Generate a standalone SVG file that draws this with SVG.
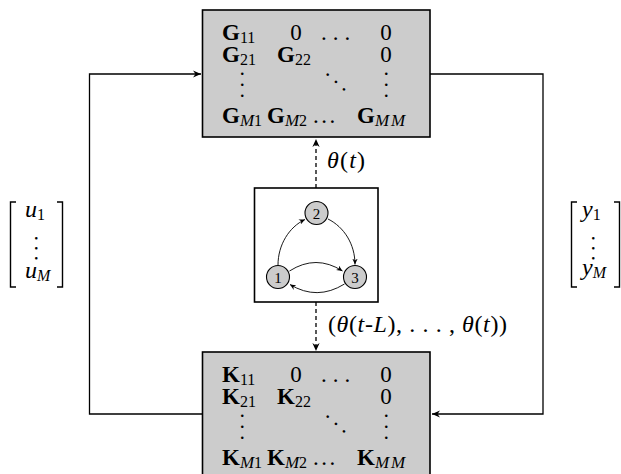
<svg xmlns="http://www.w3.org/2000/svg" width="621" height="474" viewBox="0 0 621 474">
  <defs>
    <style>
      .box { fill: #cccccc; stroke: #000; stroke-width: 1.6; }
      .frame { fill: #fff; stroke: #000; stroke-width: 1.6; }
      .node { fill: #cccccc; stroke: #000; stroke-width: 1.1; }
      .wire { fill: none; stroke: #000; stroke-width: 1.3; }
      .dash { fill: none; stroke: #000; stroke-width: 1.3; stroke-dasharray: 4 3; }
      .edge { fill: none; stroke: #000; stroke-width: 0.9; }
      .brk { fill: none; stroke: #000; stroke-width: 1.4; }
      text { font-family: "Liberation Serif", "DejaVu Serif", serif; fill: #000; }
      .mx { font-size: 23px; }
      .b { font-weight: bold; }
      .s { font-size: 16px; }
      .si { font-size: 17px; font-style: italic; }
      .i { font-style: italic; }
      .lbl { font-size: 24px; }
      .vd { font-size: 22px; letter-spacing: 5.5px; }
      .vd.tight { letter-spacing: 4.5px; }
      .nl { font-size: 15px; text-anchor: middle; }
    </style>
    <marker id="tip" viewBox="-8 -4 9 8" refX="0" refY="0" markerWidth="9" markerHeight="8" markerUnits="userSpaceOnUse" orient="auto">
      <path d="M0,0 L-8,-3.6 L-5.5,0 L-8,3.6 Z" fill="#000"/>
    </marker>
    <marker id="tipS" viewBox="-6 -3 7 6" refX="0" refY="0" markerWidth="7" markerHeight="6" markerUnits="userSpaceOnUse" orient="auto">
      <path d="M0,0 L-6,-2.7 L-4,0 L-6,2.7 Z" fill="#000"/>
    </marker>
  </defs>

  <!-- feedback wiring and the mode signals -->
  <g id="connectors">
    <path class="wire" d="M203,414 H89.5 V74 H201" marker-end="url(#tip)"/>
    <path class="wire" d="M430,74 H543 V414 H432" marker-end="url(#tip)"/>
    <path class="dash" d="M316,188 V139" marker-end="url(#tip)"/>
    <path class="dash" d="M316,302 V351" marker-end="url(#tip)"/>
  </g>

  <!-- plant G -->
  <g id="plant">
    <rect class="box" x="202.5" y="10" width="227.5" height="127"/>
    <text class="mx" x="222" y="40"><tspan class="b">G</tspan><tspan class="s" dy="3">11</tspan></text>
    <text class="mx" x="296" y="40" text-anchor="middle">0</text>
    <text class="mx" x="321" y="40" letter-spacing="6">...</text>
    <text class="mx" x="386" y="40" text-anchor="middle">0</text>
    <text class="mx" x="222" y="62"><tspan class="b">G</tspan><tspan class="s" dy="3">21</tspan></text>
    <text class="mx" x="277" y="62"><tspan class="b">G</tspan><tspan class="s" dy="3">22</tspan></text>
    <text class="mx" x="386" y="62" text-anchor="middle">0</text>
    <text class="vd" transform="translate(240.5,71) rotate(90)">...</text>
    <text class="vd" transform="translate(325,73.5) rotate(42)">...</text>
    <text class="vd" transform="translate(384.5,71) rotate(90)">...</text>
    <text class="mx" x="222" y="123"><tspan class="b">G</tspan><tspan class="si" dy="3">M</tspan><tspan class="s">1</tspan></text>
    <text class="mx" x="267" y="123"><tspan class="b">G</tspan><tspan class="si" dy="3">M</tspan><tspan class="s">2</tspan></text>
    <text class="mx" x="313" y="123" letter-spacing="2.5">...</text>
    <text class="mx" x="357" y="123"><tspan class="b">G</tspan><tspan class="si" dy="3" letter-spacing="2">MM</tspan></text>
  </g>

  <!-- controller K -->
  <g id="controller">
    <rect class="box" x="202.5" y="352" width="227.5" height="126"/>
    <text class="mx" x="222" y="382"><tspan class="b">K</tspan><tspan class="s" dy="3">11</tspan></text>
    <text class="mx" x="296" y="382" text-anchor="middle">0</text>
    <text class="mx" x="321" y="382" letter-spacing="6">...</text>
    <text class="mx" x="386" y="382" text-anchor="middle">0</text>
    <text class="mx" x="222" y="404"><tspan class="b">K</tspan><tspan class="s" dy="3">21</tspan></text>
    <text class="mx" x="277" y="404"><tspan class="b">K</tspan><tspan class="s" dy="3">22</tspan></text>
    <text class="mx" x="386" y="404" text-anchor="middle">0</text>
    <text class="vd" transform="translate(240.5,413) rotate(90)">...</text>
    <text class="vd" transform="translate(325,415.5) rotate(42)">...</text>
    <text class="vd" transform="translate(384.5,413) rotate(90)">...</text>
    <text class="mx" x="222" y="465"><tspan class="b">K</tspan><tspan class="si" dy="3">M</tspan><tspan class="s">1</tspan></text>
    <text class="mx" x="267" y="465"><tspan class="b">K</tspan><tspan class="si" dy="3">M</tspan><tspan class="s">2</tspan></text>
    <text class="mx" x="313" y="465" letter-spacing="2.5">...</text>
    <text class="mx" x="357" y="465"><tspan class="b">K</tspan><tspan class="si" dy="3" letter-spacing="2">MM</tspan></text>
  </g>

  <!-- Markov chain of modes -->
  <g id="modes">
    <rect class="frame" x="254.5" y="188" width="123.5" height="114"/>
    <g class="chain-edges">
      <path class="edge" d="M278,265 C278,245 289,227 305,219.5" marker-end="url(#tipS)"/>
      <path class="edge" d="M328,219 C344,227 355,244 355,264.5" marker-end="url(#tipS)"/>
      <path class="edge" d="M289.5,271 Q316,254 342.5,271" marker-end="url(#tipS)"/>
      <path class="edge" d="M344.5,284 Q317,301 290,284.5" marker-end="url(#tipS)"/>
    </g>
    <g id="mode-1">
      <circle class="node" cx="278" cy="277" r="11.5"/>
      <text class="nl" x="278" y="282.5">1</text>
    </g>
    <g id="mode-2">
      <circle class="node" cx="316.5" cy="213" r="11.5"/>
      <text class="nl" x="316.5" y="218.5">2</text>
    </g>
    <g id="mode-3">
      <circle class="node" cx="355" cy="277" r="11.5"/>
      <text class="nl" x="355" y="282.5">3</text>
    </g>
  </g>

  <!-- signal labels -->
  <g id="labels">
    <text class="lbl" x="327" y="168" textLength="38" lengthAdjust="spacing"><tspan class="i">θ</tspan>(<tspan class="i">t</tspan>)</text>
    <text class="lbl" x="328" y="332" textLength="179" lengthAdjust="spacing">(<tspan class="i">θ</tspan>(<tspan class="i">t</tspan>-<tspan class="i">L</tspan>), . . . , <tspan class="i">θ</tspan>(<tspan class="i">t</tspan>))</text>
  </g>

  <!-- input vector u -->
  <g id="input-vector">
    <path class="brk" d="M16,202 H10.5 V287 H16"/>
    <path class="brk" d="M57,202 H62.5 V287 H57"/>
    <text class="lbl" x="25" y="217"><tspan class="i">u</tspan><tspan font-size="16" dy="3">1</tspan></text>
    <text class="vd tight" transform="translate(34.5,235.5) rotate(90)">...</text>
    <text class="lbl" x="25" y="278"><tspan class="i">u</tspan><tspan class="i" font-size="16" dy="3">M</tspan></text>
  </g>

  <!-- output vector y -->
  <g id="output-vector">
    <path class="brk" d="M577,202 H571.5 V287 H577"/>
    <path class="brk" d="M614,202 H619.5 V287 H614"/>
    <text class="lbl" x="582" y="217"><tspan class="i">y</tspan><tspan font-size="16" dy="3">1</tspan></text>
    <text class="vd tight" transform="translate(591.5,235.5) rotate(90)">...</text>
    <text class="lbl" x="582" y="275"><tspan class="i">y</tspan><tspan class="i" font-size="16" dy="3">M</tspan></text>
  </g>
</svg>
